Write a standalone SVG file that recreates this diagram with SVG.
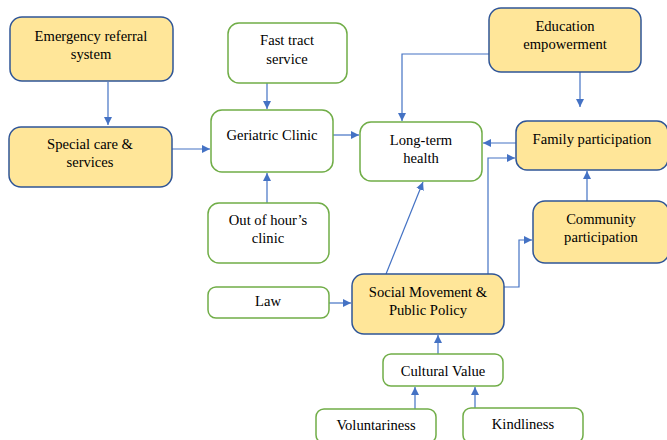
<svg xmlns="http://www.w3.org/2000/svg" width="667" height="440" viewBox="0 0 667 440">
<style>
.y{fill:#FFE699;stroke:#2F5597;stroke-width:1.5}
.g{fill:#fff;stroke:#70AD47;stroke-width:1.5}
text{font-family:"Liberation Serif","Times New Roman",serif;font-size:14.6px;fill:#000;text-anchor:middle}
.c{fill:none;stroke:#4472C4;stroke-width:1.2;marker-end:url(#a)}
</style>
<defs>
<marker id="a" viewBox="0 0 10 10" refX="10" refY="5" markerWidth="8" markerHeight="8" markerUnits="userSpaceOnUse" orient="auto">
<path d="M0,0L10,5L0,10z" fill="#4472C4"/>
</marker>
</defs>
<rect width="667" height="440" fill="#fff"/>
<g id="connectors">
<path class="c" d="M108,82V125"/>
<path class="c" d="M172,149H210"/>
<path class="c" d="M267,83V109"/>
<path class="c" d="M267,263V173"/>
<path class="c" d="M333,135H359"/>
<path class="c" d="M489,54H402V121"/>
<path class="c" d="M580,72V107"/>
<path class="c" d="M516,143H483"/>
<path class="c" d="M488,274V158H515"/>
<path class="c" d="M587,201V171"/>
<path class="c" d="M386,274L423,182"/>
<path class="c" d="M504,287H519V240H532"/>
<path class="c" d="M329,303H351"/>
<path class="c" d="M438,354V335"/>
<path class="c" d="M415,409V387"/>
<path class="c" d="M475,408V387"/>
</g>
<g id="emergency"><rect class="y" x="10" y="17" width="163" height="64" rx="12"/><text x="91" y="41">Emergency referral</text><text x="91" y="59">system</text></g>
<g id="special"><rect class="y" x="9" y="127" width="163" height="60" rx="12"/><text x="90" y="149">Special care &amp;</text><text x="90" y="167">services</text></g>
<g id="fasttract"><rect class="g" x="228" y="23" width="119" height="60" rx="11"/><text x="287" y="45">Fast tract</text><text x="287" y="64">service</text></g>
<g id="geriatric"><rect class="g" x="211" y="110" width="122" height="62" rx="11"/><text x="272" y="140">Geriatric Clinic</text></g>
<g id="longterm"><rect class="g" x="360" y="122" width="122" height="59" rx="11"/><text x="421" y="145">Long-term</text><text x="421" y="163">health</text></g>
<g id="education"><rect class="y" x="489" y="8" width="152" height="64" rx="12"/><text x="565" y="31">Education</text><text x="565" y="49">empowerment</text></g>
<g id="family"><rect class="y" x="516" y="121" width="152" height="49" rx="11"/><text x="592" y="144">Family participation</text></g>
<g id="community"><rect class="y" x="533" y="201" width="136" height="62" rx="12"/><text x="601" y="224">Community</text><text x="601" y="242">participation</text></g>
<g id="outofhour"><rect class="g" x="208" y="203" width="121" height="60" rx="11"/><text x="268" y="225">Out of hour’s</text><text x="268" y="243">clinic</text></g>
<g id="law"><rect class="g" x="208" y="287" width="121" height="31" rx="8"/><text x="268" y="306">Law</text></g>
<g id="social"><rect class="y" x="352" y="274" width="152" height="60" rx="12"/><text x="428" y="297">Social Movement &amp;</text><text x="428" y="315">Public Policy</text></g>
<g id="cultural"><rect class="g" x="383" y="354" width="120" height="32" rx="8"/><text x="443" y="376">Cultural Value</text></g>
<g id="voluntariness"><rect class="g" x="316" y="409" width="120" height="34" rx="8"/><text x="376" y="430">Voluntariness</text></g>
<g id="kindliness"><rect class="g" x="463" y="408" width="120" height="35" rx="8"/><text x="523" y="429">Kindliness</text></g>
</svg>
